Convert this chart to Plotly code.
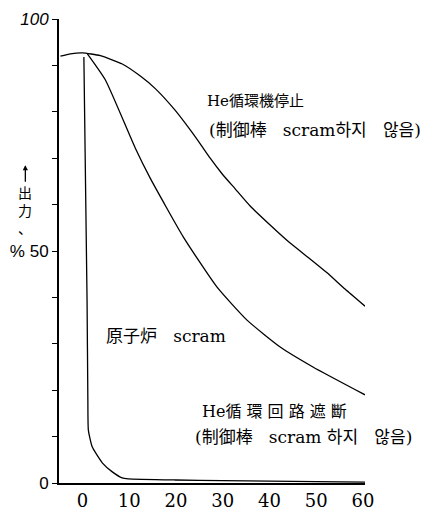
import plotly.graph_objects as go

# ---- data ----
he_stop_x = [-4.7, -2.56, 0, 3.84, 8.54, 12.39, 15.59, 19.86, 23.06, 25.2, 27.33, 29.9,
             32.67, 35.87, 40.14, 44.42, 48.69, 52.32, 56.16, 60.43]
he_stop_y = [92.0, 92.5, 92.7, 92.1, 90.3, 87.7, 85.0, 80.3, 76.1, 73.1, 70.0, 66.6,
             63.4, 59.7, 55.6, 51.7, 48.3, 45.3, 41.8, 38.1]

he_break_x = [1.07, 4.9, 11.3, 14.5, 21.6, 28.8, 35.2, 42.3, 49.3, 60.43]
he_break_y = [92.5, 86.9, 72.2, 65.7, 53.0, 42.2, 35.1, 29.3, 25.0, 19.0]

scram_x = [0.32, 1.0, 1.17, 1.28, 2.1, 4.3, 6.4, 8.5, 9.8, 19.9, 30, 40, 50, 60.43]
scram_y = [91.8, 39.4, 17.9, 11.4, 7.8, 4.3, 2.4, 1.1, 0.9, 0.65, 0.5, 0.4, 0.3, 0.2]

x_ticks = [0, 10, 20, 30, 40, 50, 60]
y_ticks = [0, 10, 20, 30, 40, 50, 60, 70, 80, 90, 100]
y_tick_text = ["0", "", "", "", "", "% 50", "", "", "", "", "<i>100</i>"]

SERIF = "DejaVu Serif, Noto Sans CJK JP"
LBL = "DejaVu Serif, Noto Sans CJK JP"
NB = "\u00a0"

fig = go.Figure()
line = dict(color="black", width=1.3, shape="spline", smoothing=0.5)
fig.add_trace(go.Scatter(x=he_stop_x, y=he_stop_y, mode="lines", line=line))
fig.add_trace(go.Scatter(x=he_break_x, y=he_break_y, mode="lines", line=line))
fig.add_trace(go.Scatter(x=scram_x, y=scram_y, mode="lines", line=line))

ann = [
    dict(x=26.2, y=82.4, text="He循環機停止", size=15),
    dict(x=26.6, y=76.0, text="(制御棒" + NB * 3 + "scram하지" + NB * 3 + "않음)", size=17),
    dict(x=4.6, y=31.7, text="原子炉" + NB * 3 + "scram", size=17),
    dict(x=25.2, y=15.5, text="He" + NB.join("循環回路遮斷"), size=16),
    dict(x=23.7, y=9.9, text="(制御棒" + NB * 3 + "scram" + NB + "하지" + NB * 3 + "않음)", size=17),
]
annotations = []
for a in ann:
    sz = a.pop("size")
    a.update(xref="x", yref="y", showarrow=False, xanchor="left", yanchor="middle",
             font=dict(family=LBL, size=sz, color="black"))
    annotations.append(a)

# y-axis title (vertical) + arrow
annotations.append(dict(xref="paper", yref="paper", x=-0.11, y=0.685, ax=0, ay=18,
                        text="", showarrow=True, arrowhead=2, arrowsize=0.8,
                        arrowwidth=1.3, arrowcolor="black"))
annotations.append(dict(xref="paper", yref="paper", x=-0.11, y=0.588, xanchor="center",
                        yanchor="middle", showarrow=False, text="出<br>力<br>、",
                        font=dict(family="Noto Sans CJK JP", size=14, color="black")))

fig.update_layout(
    width=438, height=510,
    margin=dict(l=59, r=73, t=19, b=27),
    paper_bgcolor="white", plot_bgcolor="white",
    showlegend=False,
    annotations=annotations,
    xaxis=dict(range=[-5, 60.43], tickvals=x_ticks, showgrid=False, zeroline=False,
               showline=True, linecolor="black", linewidth=2, ticks="", automargin=False,
               tickfont=dict(family=SERIF, size=18, color="black")),
    yaxis=dict(range=[0, 100], tickvals=y_ticks, ticktext=y_tick_text, showgrid=False,
               zeroline=False, showline=True, linecolor="black", linewidth=2,
               ticks="outside", ticklen=5, tickcolor="black", tickwidth=1.2, automargin=False,
               tickfont=dict(family="Liberation Sans, Noto Sans CJK JP", size=17, color="black")),
)
fig.write_html("out.html", config={"displayModeBar": False},
               post_script="document.body.style.margin='0px';")
